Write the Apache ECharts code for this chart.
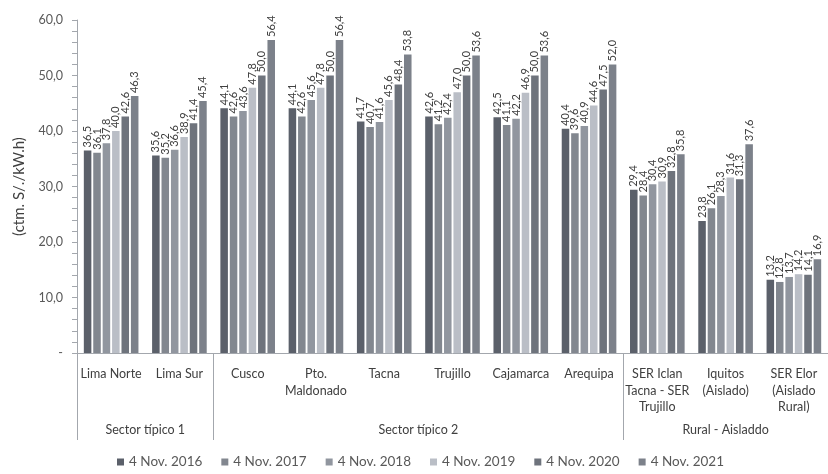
<!DOCTYPE html>
<html>
<head>
<meta charset="utf-8">
<script src="https://cdn.jsdelivr.net/npm/echarts@6/dist/echarts.min.js"></script>
<style>
  html, body { margin: 0; padding: 0; background: #ffffff; }
  #chart { width: 828px; height: 474px; }
</style>
</head>
<body>
<div id="chart"></div>
<script>
// Tarifas por sistema eléctrico (ctm. S/./kW.h)
const categories = [
  'Lima Norte', 'Lima Sur', 'Cusco', 'Pto.\nMaldonado', 'Tacna', 'Trujillo',
  'Cajamarca', 'Arequipa', 'SER Iclan\nTacna - SER\nTrujillo', 'Iquitos\n(Aislado)',
  'SER Elor\n(Aislado\nRural)'
];
const seriesNames = ['4 Nov. 2016', '4 Nov. 2017', '4 Nov. 2018', '4 Nov. 2019', '4 Nov. 2020', '4 Nov. 2021'];
const nov2016 = [36.5, 35.6, 44.1, 44.1, 41.7, 42.6, 42.5, 40.4, 29.4, 23.8, 13.2];
const nov2017 = [36.1, 35.2, 42.6, 42.6, 40.7, 41.2, 41.1, 39.6, 28.4, 26.1, 12.8];
const nov2018 = [37.8, 36.6, 43.6, 45.6, 41.6, 42.4, 42.2, 40.9, 30.4, 28.3, 13.7];
const nov2019 = [40.0, 38.9, 47.8, 47.8, 45.6, 47.0, 46.9, 44.6, 30.9, 31.6, 14.2];
const nov2020 = [42.6, 41.4, 50.0, 50.0, 48.4, 50.0, 50.0, 47.5, 32.8, 31.3, 14.1];
const nov2021 = [46.3, 45.4, 56.4, 56.4, 53.8, 53.6, 53.6, 52.0, 35.8, 37.6, 16.9];
const seriesValues = [nov2016, nov2017, nov2018, nov2019, nov2020, nov2021];

// Agrupación de sistemas por sector típico
const groupNames = ['Sector típico 1', 'Sector típico 2', 'Rural - Aisladdo'];
const groupSizes = [2, 6, 3];

const yTicks = { min: 0, max: 60, interval: 10 };

const colors = ['#5b606a', '#82878f', '#91969f', '#babec6', '#6e737c', '#7c818a'];
const FONT = 'Lato, "Liberation Sans", sans-serif';
const fmt = v => v.toFixed(1).replace('.', ',');

// boundaries where the long separator ticks are drawn
const boundaries = [0];
let acc = 0;
groupSizes.forEach(n => { acc += n; if (acc < categories.length) boundaries.push(acc); });

const chart = echarts.init(document.getElementById('chart'), null, { renderer: 'canvas' });

const option = {
  animation: false,
  color: colors,
  textStyle: { fontFamily: FONT },
  grid: { left: 77, right: -8, top: 20, bottom: 121 },
  legend: {
    data: seriesNames,
    left: 112,
    top: 450,
    icon: 'rect',
    itemWidth: 7,
    itemHeight: 7,
    itemGap: 19,
    textStyle: { color: '#595959', fontSize: 13.5, fontFamily: FONT }
  },
  xAxis: {
    type: 'category',
    data: categories,
    axisLine: { show: true, lineStyle: { color: '#a3a7ad', width: 1 } },
    axisTick: {
      show: true,
      length: 87,
      interval: (idx) => boundaries.indexOf(idx) !== -1,
      lineStyle: { color: '#a3a7ad', width: 1 }
    },
    axisLabel: {
      interval: 0,
      margin: 13,
      color: '#404040',
      fontSize: 12.5,
      lineHeight: 16.5,
      fontFamily: FONT
    }
  },
  yAxis: {
    type: 'value',
    min: yTicks.min,
    max: yTicks.max,
    interval: yTicks.interval,
    name: '(ctm. S/./kW.h)',
    nameLocation: 'middle',
    nameGap: 50,
    nameTextStyle: { color: '#404040', fontSize: 15, fontFamily: FONT },
    axisLine: { show: true, lineStyle: { color: '#a3a7ad', width: 1 } },
    axisTick: { show: true, length: 5, lineStyle: { color: '#a3a7ad' } },
    minorTick: { show: true, splitNumber: 5, length: 5, lineStyle: { color: '#a3a7ad' } },
    splitLine: { show: false },
    axisLabel: {
      margin: 14,
      color: '#595959',
      fontSize: 12.5,
      fontFamily: FONT,
      formatter: v => (v === 0 ? '-' : fmt(v))
    }
  },
  series: seriesValues.map((vals, i) => ({
    name: seriesNames[i],
    type: 'bar',
    data: vals,
    barGap: '25%',
    barCategoryGap: '20%',
    itemStyle: { color: colors[i] },
    label: {
      show: true,
      position: 'top',
      rotate: 90,
      align: 'left',
      verticalAlign: 'middle',
      distance: 3,
      color: '#404040',
      fontSize: 11,
      fontFamily: FONT,
      formatter: p => fmt(p.value)
    }
  }))
};

chart.setOption(option);

// group captions centred beneath each block of categories
const groupLabels = [];
let start = 0;
groupSizes.forEach((n, g) => {
  const first = chart.convertToPixel({ xAxisIndex: 0 }, start);
  const last = chart.convertToPixel({ xAxisIndex: 0 }, start + n - 1);
  const y = chart.convertToPixel({ yAxisIndex: 0 }, 0);
  groupLabels.push({
    type: 'text',
    x: (first + last) / 2,
    y: y + 77,
    style: {
      text: groupNames[g],
      fill: '#404040',
      fontSize: 12.5,
      fontFamily: FONT,
      align: 'center',
      verticalAlign: 'middle'
    }
  });
  start += n;
});
chart.setOption({ graphic: groupLabels });
</script>
</body>
</html>
